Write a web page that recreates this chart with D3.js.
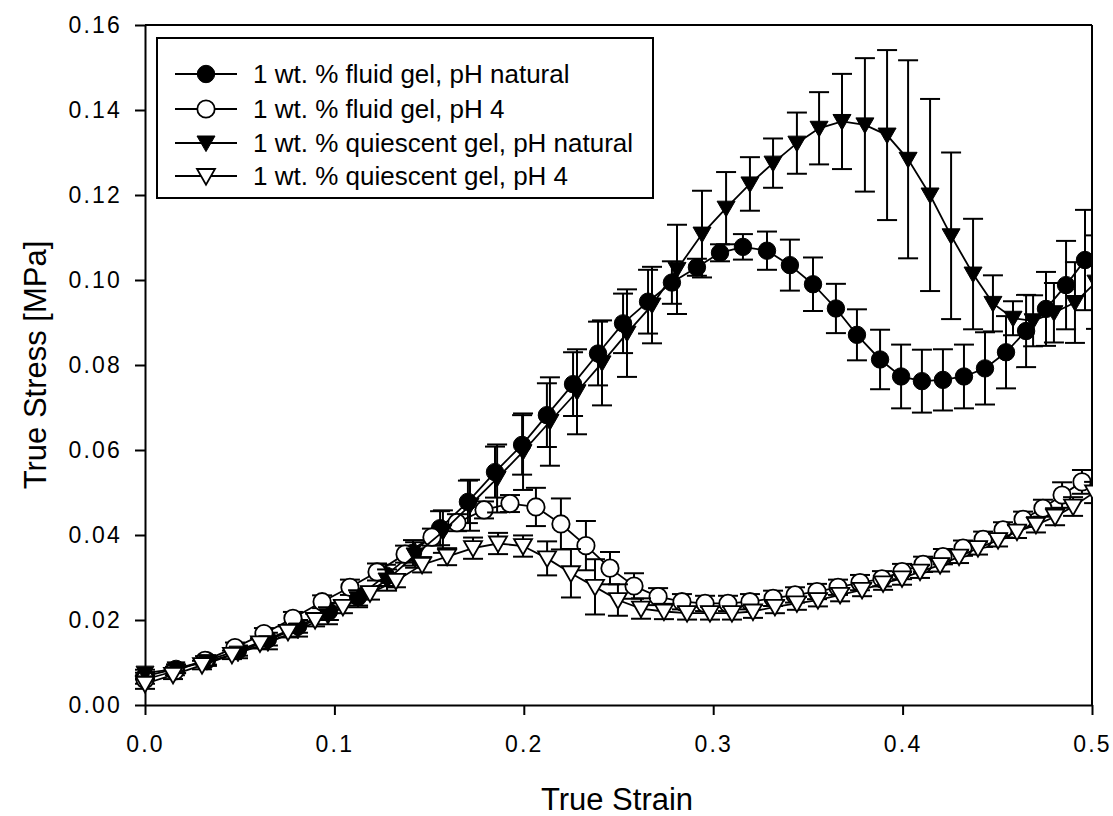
<!DOCTYPE html>
<html lang="en">
<head>
<meta charset="UTF-8">
<title>True stress vs true strain</title>
<script src="https://cdn.jsdelivr.net/npm/d3@7"></script>
<style>
  body { margin: 0; background: #fff; }
  svg { display: block; font-family: "Liberation Sans", Arial, sans-serif; }
</style>
</head>
<body>
<svg id="chart" width="1113" height="816"></svg>
<script>
// values (strain, stress in MPa, +/- error)
const fluidNatStrain = [0, 0.0164, 0.0327, 0.0491, 0.0649, 0.0808, 0.0971, 0.1125, 0.1272, 0.1415, 0.1558, 0.1705, 0.1848, 0.1991, 0.2122, 0.2260, 0.2392, 0.2524, 0.2656, 0.2782, 0.2914, 0.3036, 0.3157, 0.3284, 0.3405, 0.3527, 0.3648, 0.3759, 0.3881, 0.3992, 0.4102, 0.4213, 0.4324, 0.4435, 0.4546, 0.4652, 0.4757, 0.4863, 0.4963];
const fluidNatStress = [0.0068, 0.0085, 0.0105, 0.0128, 0.0155, 0.0185, 0.022, 0.0254, 0.0305, 0.0358, 0.0416, 0.0478, 0.0548, 0.0612, 0.0682, 0.0755, 0.0827, 0.0898, 0.0949, 0.0994, 0.103, 0.1064, 0.1078, 0.1069, 0.1035, 0.099, 0.0933, 0.0871, 0.0813, 0.0773, 0.0762, 0.0765, 0.0773, 0.0792, 0.083, 0.088, 0.0932, 0.0988, 0.1047];
const fluidNatErr = [0.0008, 0.001, 0.001, 0.0012, 0.0015, 0.0015, 0.002, 0.002, 0.0025, 0.003, 0.004, 0.005, 0.006, 0.007, 0.0075, 0.0075, 0.0075, 0.007, 0.0075, 0.005, 0.002, 0.002, 0.003, 0.0045, 0.006, 0.0063, 0.0058, 0.006, 0.007, 0.0075, 0.0074, 0.0072, 0.0075, 0.0085, 0.0085, 0.0085, 0.0087, 0.0104, 0.0118];

const fluidPh4Strain = [0, 0.0158, 0.0317, 0.0475, 0.0628, 0.0781, 0.0935, 0.1082, 0.1225, 0.1373, 0.1515, 0.1647, 0.1790, 0.1927, 0.2064, 0.2196, 0.2328, 0.2455, 0.2582, 0.2709, 0.2835, 0.2957, 0.3078, 0.3194, 0.3316, 0.3432, 0.3548, 0.3659, 0.3775, 0.3891, 0.3997, 0.4108, 0.4213, 0.4319, 0.4425, 0.4530, 0.4636, 0.4741, 0.4842, 0.4947];
const fluidPh4Stress = [0.006, 0.008, 0.0105, 0.0135, 0.0168, 0.0204, 0.0243, 0.0277, 0.0313, 0.0355, 0.0395, 0.0429, 0.0459, 0.0474, 0.0466, 0.0426, 0.0375, 0.0322, 0.028, 0.0255, 0.0243, 0.0239, 0.0239, 0.0243, 0.0251, 0.0259, 0.0267, 0.0277, 0.0288, 0.0297, 0.0314, 0.0331, 0.0349, 0.0369, 0.039, 0.0412, 0.0437, 0.0463, 0.0494, 0.0525];
const fluidPh4Err = [0.001, 0.001, 0.001, 0.0012, 0.0013, 0.0015, 0.0015, 0.0018, 0.002, 0.002, 0.002, 0.002, 0.002, 0.002, 0.0045, 0.006, 0.0058, 0.0038, 0.003, 0.002, 0.0018, 0.0018, 0.0018, 0.0018, 0.0018, 0.0018, 0.0018, 0.0018, 0.0018, 0.0018, 0.0018, 0.0018, 0.0018, 0.0018, 0.0018, 0.0018, 0.0018, 0.002, 0.003, 0.0028];

const quiesNatStrain = [0, 0.0164, 0.0327, 0.0491, 0.0649, 0.0808, 0.0966, 0.1125, 0.1278, 0.1426, 0.1573, 0.1716, 0.1859, 0.1996, 0.2138, 0.2281, 0.2413, 0.2545, 0.2677, 0.2809, 0.2941, 0.3068, 0.3194, 0.3316, 0.3442, 0.3559, 0.3680, 0.3801, 0.3918, 0.4029, 0.4145, 0.4256, 0.4372, 0.4477, 0.4583, 0.4689, 0.4799, 0.4910, 0.5021];
const quiesNatStress = [0.0075, 0.0085, 0.0102, 0.0122, 0.0146, 0.0176, 0.021, 0.025, 0.0294, 0.0353, 0.0408, 0.047, 0.0533, 0.0596, 0.0667, 0.0737, 0.0805, 0.0875, 0.0941, 0.1025, 0.1108, 0.1169, 0.1226, 0.1275, 0.1322, 0.1357, 0.1373, 0.1365, 0.1341, 0.1284, 0.12, 0.1104, 0.1014, 0.0945, 0.091, 0.0904, 0.0923, 0.0947, 0.0995];
const quiesNatErr = [0.0008, 0.001, 0.001, 0.0012, 0.0015, 0.0015, 0.002, 0.002, 0.0025, 0.003, 0.005, 0.006, 0.008, 0.009, 0.0104, 0.01, 0.01, 0.0103, 0.009, 0.0105, 0.0102, 0.0085, 0.0063, 0.0058, 0.0072, 0.0085, 0.0112, 0.0157, 0.02, 0.0233, 0.0226, 0.0196, 0.013, 0.0066, 0.004, 0.006, 0.007, 0.0095, 0.011];

const quiesPh4Strain = [0, 0.0148, 0.0301, 0.0459, 0.0607, 0.0755, 0.0898, 0.1045, 0.1188, 0.1325, 0.1463, 0.1595, 0.1732, 0.1864, 0.1996, 0.2123, 0.2249, 0.2376, 0.2497, 0.2619, 0.2740, 0.2862, 0.2983, 0.3099, 0.3210, 0.3326, 0.3442, 0.3553, 0.3670, 0.3786, 0.3897, 0.3997, 0.4092, 0.4198, 0.4298, 0.4398, 0.4504, 0.4604, 0.4704, 0.4805, 0.4900, 0.5011];
const quiesPh4Stress = [0.005, 0.0071, 0.0094, 0.0118, 0.0145, 0.0172, 0.02, 0.0231, 0.0263, 0.0292, 0.033, 0.0349, 0.0369, 0.038, 0.0374, 0.0345, 0.031, 0.0278, 0.0247, 0.0227, 0.022, 0.0216, 0.0216, 0.0216, 0.022, 0.0231, 0.0239, 0.0247, 0.0259, 0.0271, 0.0286, 0.0298, 0.0314, 0.0329, 0.0349, 0.0369, 0.0388, 0.0408, 0.0424, 0.0443, 0.0467, 0.05];
const quiesPh4Err = [0.0012, 0.001, 0.001, 0.001, 0.0012, 0.0013, 0.0015, 0.0015, 0.0015, 0.0015, 0.0018, 0.002, 0.0025, 0.0025, 0.0025, 0.004, 0.0057, 0.0065, 0.0037, 0.0024, 0.0018, 0.0015, 0.0015, 0.0015, 0.0015, 0.0015, 0.0015, 0.0015, 0.0015, 0.0015, 0.0015, 0.0015, 0.0015, 0.0015, 0.0015, 0.0015, 0.0015, 0.0015, 0.0018, 0.002, 0.0022, 0.0025];

const seriesNames = [
  "1 wt. % fluid gel, pH natural",
  "1 wt. % fluid gel, pH 4",
  "1 wt. % quiescent gel, pH natural",
  "1 wt. % quiescent gel, pH 4"
];
const xTicks = [0, 0.1, 0.2, 0.3, 0.4, 0.5];
const yTicks = [0, 0.02, 0.04, 0.06, 0.08, 0.10, 0.12, 0.14, 0.16];

const series = [
  {name: seriesNames[0], x: fluidNatStrain, y: fluidNatStress, e: fluidNatErr, shape: "circle", fill: "#000"},
  {name: seriesNames[1], x: fluidPh4Strain, y: fluidPh4Stress, e: fluidPh4Err, shape: "circle", fill: "#fff"},
  {name: seriesNames[2], x: quiesNatStrain, y: quiesNatStress, e: quiesNatErr, shape: "triangle", fill: "#000"},
  {name: seriesNames[3], x: quiesPh4Strain, y: quiesPh4Stress, e: quiesPh4Err, shape: "triangle", fill: "#fff"}
];

const svg = d3.select("#chart");
const plotLeft = 145, plotRight = 1092, plotTop = 25, plotBottom = 705;

const x = d3.scaleLinear().domain([0, 0.5]).range([plotLeft, plotRight]);
const y = d3.scaleLinear().domain([0, 0.16]).range([plotBottom, plotTop]);

svg.append("rect").attr("width", 1113).attr("height", 816).attr("fill", "#fff");

svg.append("defs").append("clipPath").attr("id", "plotClip")
  .append("rect").attr("x", 0).attr("y", 0).attr("width", plotRight + 1).attr("height", 816);

// axes
const xAxis = svg.append("g").attr("transform", `translate(0,${plotBottom})`)
  .call(d3.axisBottom(x).tickValues(xTicks).tickFormat(d3.format(".1f")).tickSize(10).tickSizeOuter(0).tickPadding(21));
const yAxis = svg.append("g").attr("transform", `translate(${plotLeft},0)`)
  .call(d3.axisLeft(y).tickValues(yTicks).tickFormat(d3.format(".2f")).tickSize(10).tickSizeOuter(0).tickPadding(13));

[xAxis, yAxis].forEach(g => {
  g.select(".domain").attr("stroke", "#000").attr("stroke-width", 2);
  g.selectAll(".tick line").attr("stroke", "#000").attr("stroke-width", 2);
  g.selectAll(".tick text")
    .attr("fill", "#000")
    .style("font-family", '"Liberation Sans", Arial, sans-serif')
    .style("font-size", "23px")
    .style("letter-spacing", "2.2px");
});

// frame top and right
svg.append("line").attr("x1", plotLeft).attr("x2", plotRight).attr("y1", plotTop).attr("y2", plotTop)
  .attr("stroke", "#000").attr("stroke-width", 2);
svg.append("line").attr("x1", plotRight).attr("x2", plotRight).attr("y1", plotTop).attr("y2", plotBottom)
  .attr("stroke", "#000").attr("stroke-width", 2);

// axis titles
svg.append("text").attr("x", 617).attr("y", 810)
  .attr("text-anchor", "middle").style("font-size", "31px").text("True Strain");
svg.append("text").attr("transform", `translate(46,${(plotTop + plotBottom) / 2}) rotate(-90)`)
  .attr("text-anchor", "middle").style("font-size", "31px").text("True Stress [MPa]");

function symbolPath(shape) {
  if (shape === "circle") return d3.symbol().type(d3.symbolCircle).size(Math.PI * 8.7 * 8.7)();
  // downward triangle
  return "M-9,-7L9,-7L0,8.6Z";
}

function drawMarker(g, shape, fill, cx, cy) {
  g.append("path")
    .attr("d", symbolPath(shape))
    .attr("transform", `translate(${cx},${cy})`)
    .attr("fill", fill)
    .attr("stroke", "#000")
    .attr("stroke-width", fill === "#fff" ? 1.8 : 1);
}

const plot = svg.append("g").attr("clip-path", "url(#plotClip)");
const cap = 10;
const line = d3.line().x(d => x(d.x)).y(d => y(d.y));

series.forEach(s => {
  const pts = s.x.map((v, i) => ({x: v, y: s.y[i], e: s.e[i]}));
  const g = plot.append("g");
  const bars = g.append("g").attr("stroke", "#000").attr("stroke-width", 2);
  pts.forEach(p => {
    const px = x(p.x), yt = y(p.y + p.e), yb = y(p.y - p.e);
    bars.append("line").attr("x1", px).attr("x2", px).attr("y1", yt).attr("y2", yb);
    bars.append("line").attr("x1", px - cap).attr("x2", px + cap).attr("y1", yt).attr("y2", yt);
    bars.append("line").attr("x1", px - cap).attr("x2", px + cap).attr("y1", yb).attr("y2", yb);
  });
  g.append("path").datum(pts).attr("d", line)
    .attr("fill", "none").attr("stroke", "#000").attr("stroke-width", 1.8);
  const mk = g.append("g");
  pts.forEach(p => drawMarker(mk, s.shape, s.fill, x(p.x), y(p.y)));
});

// legend
const legend = svg.append("g");
legend.append("rect").attr("x", 157).attr("y", 38).attr("width", 496).attr("height", 160)
  .attr("fill", "#fff").attr("stroke", "#000").attr("stroke-width", 2);
const rowY = [74, 109, 143, 176];
series.forEach((s, i) => {
  const ry = rowY[i];
  legend.append("line").attr("x1", 175).attr("x2", 237).attr("y1", ry).attr("y2", ry)
    .attr("stroke", "#000").attr("stroke-width", 1.8);
  drawMarker(legend, s.shape, s.fill, 206, ry);
  legend.append("text").attr("x", 253).attr("y", ry).attr("dy", "0.36em")
    .style("font-size", "26px").text(s.name);
});
</script>
</body>
</html>
